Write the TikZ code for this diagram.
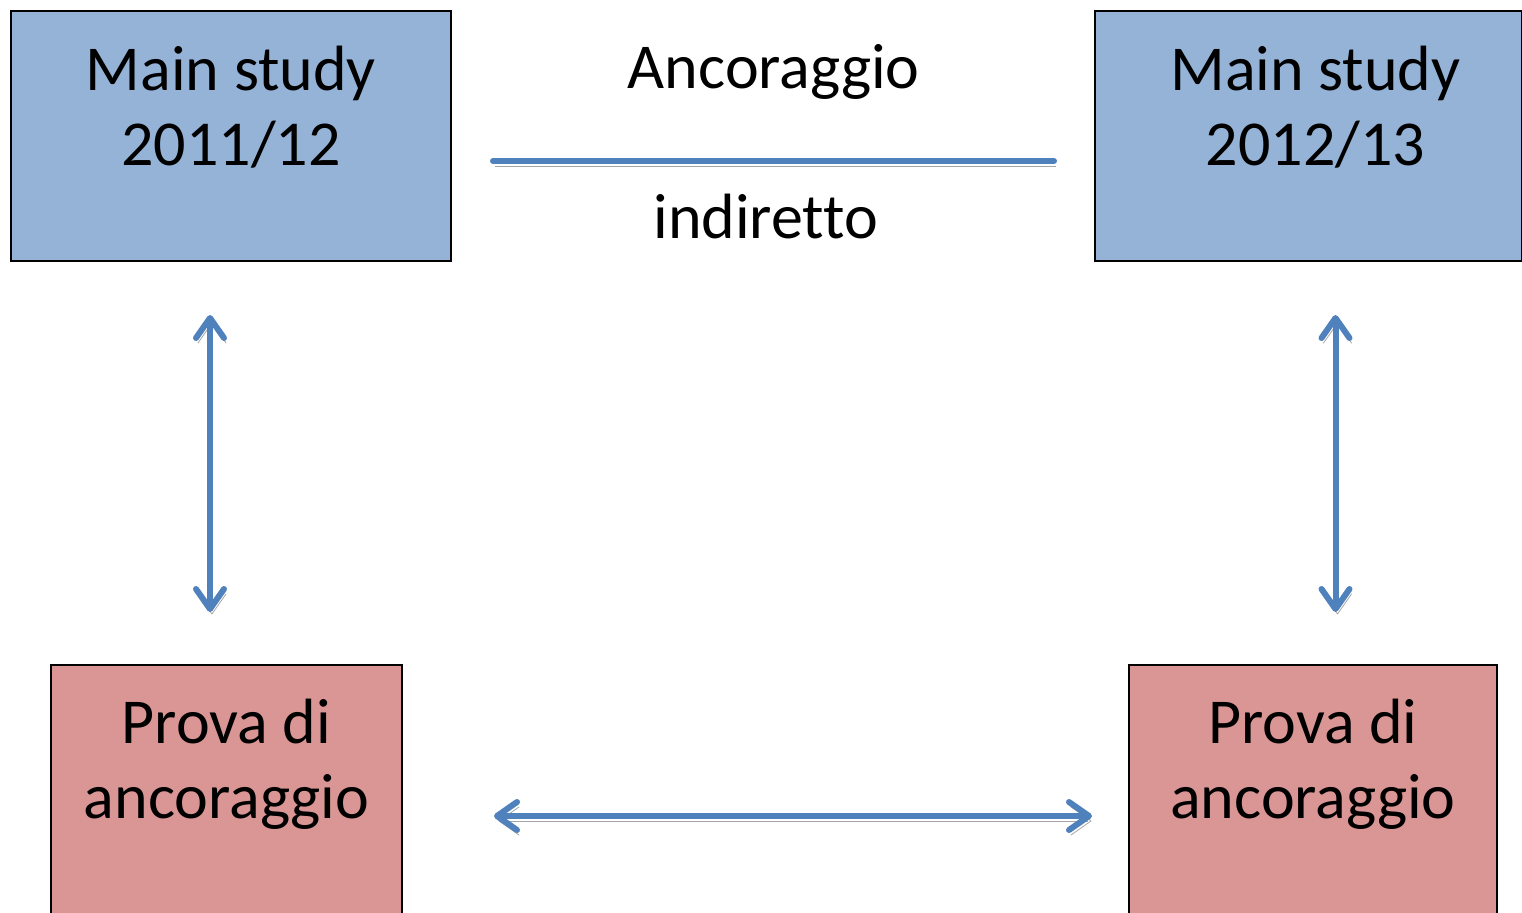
\documentclass[tikz,border=0pt]{standalone}
\usepackage{fontspec}
\setmainfont{Carlito}[Ligatures=NoCommon]
\usetikzlibrary{arrows.meta,positioning,calc}

\begin{document}
\begin{tikzpicture}[x=0.5pt,y=-0.5pt]
% Define colors
\definecolor{studyblue}{RGB}{149,179,215}
\definecolor{provared}{RGB}{217,150,148}
\definecolor{linkblue}{RGB}{79,129,189}
\tikzset{
  box/.style={draw=black,line width=1pt,inner sep=0pt,anchor=north west},
  boxtext/.style={align=center,anchor=base,inner sep=0pt,font=\fontsize{32}{37.5}\selectfont},
  link/.style={linkblue,line width=3pt,line cap=round,
    preaction={draw=black!35,transform canvas={shift={(1pt,-2.5pt)}}}},
  twoway/.style={<->,>={Straight Barb[length=10pt,width=14pt,round]}}
}
\useasboundingbox (0,0) rectangle (1522,912);
\clip (0,0) rectangle (1522,912);

% Main study boxes (top)
\node[box,fill=studyblue,minimum width=220pt,minimum height=125pt] (ms1) at (10,10) {};
\node[box,fill=studyblue,minimum width=213.5pt,minimum height=125pt] (ms2) at (1094,10) {};
\node[boxtext] (ms1t) at ($(ms1.north)+(0,155)$) {Main study\\2011/12};
\node[boxtext] (ms2t) at ($(ms2.north)+(7,155)$) {Main study\\2012/13};

% Prova di ancoraggio boxes (bottom)
\node[box,fill=provared,minimum width=175.5pt,minimum height=151pt] (pa1) at (50,664) {};
\node[box,fill=provared,minimum width=184pt,minimum height=151pt] (pa2) at (1128,664) {};
\node[boxtext] (pa1t) at ($(pa1.north)+(0,154)$) {Prova di\\ancoraggio};
\node[boxtext] (pa2t) at ($(pa2.north)+(0,154)$) {Prova di\\ancoraggio};

% Indirect anchoring
\draw[link,shorten <=20.5pt,shorten >=20pt] ([yshift=-12.5pt]ms1.east) -- ([yshift=-12.5pt]ms2.west);
\node[boxtext] (anc) at ($(ms1.north)!0.5!(ms2.north)+(4,78)$) {Ancoraggio};
\node[boxtext] (ind) at ($(anc.base)+(-8,150)$) {indiretto};

% Arrows
\coordinate (l1) at ($(ms1.south)+(-21,0)$);
\coordinate (r1) at ($(ms2.south)+(27,0)$);
\draw[link,twoway,shorten <=26.5pt,shorten >=26pt] (l1) -- (l1 |- pa1.north);
\draw[link,twoway,shorten <=26.5pt,shorten >=26pt] (r1) -- (r1 |- pa2.north);
\draw[link,twoway,shorten <=45.5pt,shorten >=18pt] (pa1.east) -- (pa2.west);
\end{tikzpicture}
\end{document}
